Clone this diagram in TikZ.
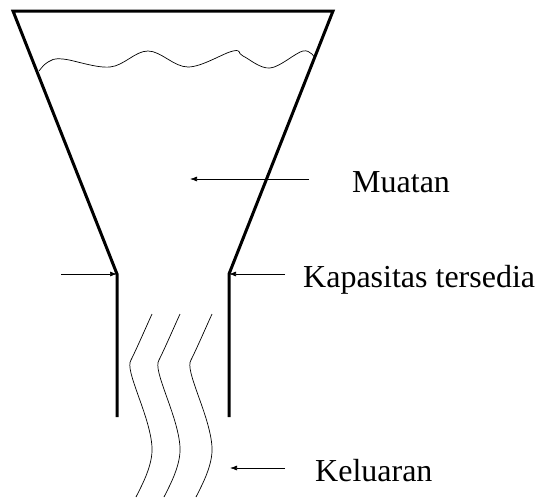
\documentclass[tikz,border=0pt]{standalone}
\usepackage{fontspec}
\setmainfont{Liberation Serif}
\usetikzlibrary{arrows.meta,calc}

\begin{document}
\begin{tikzpicture}[x=1pt, y=-1pt,
      wall/.style={line width=3pt, line join=miter},
      flow/.style={line width=0.7pt},
      arr/.style={-{Latex[length=7pt,width=5pt]}, line width=0.7pt},
      lbl/.style={anchor=base west, inner sep=0pt, text height=26pt, text depth=0pt,
                  font=\fontsize{32}{38}\selectfont}]
    \useasboundingbox (0,0) rectangle (537,498);
    % funnel
    \coordinate (tl) at (13,11);
    \coordinate (tr) at (333,11);
    \coordinate (lc) at (117,274);
    \coordinate (rc) at (229,274);
    \coordinate (lb) at (117,417);
    \coordinate (rb) at (229,417);
    \draw[wall] (lb) -- (lc) -- (tl) -- (tr) -- (rc) -- (rb);
    % surface of the load
    \draw[flow] plot[smooth, tension=0.6] coordinates {(39,71) (48,62) (63,59) (110,67)
      (148,51) (188,67) (233,51) (243,56) (270,68) (303,51) (315,58)};
    % outflow
    \foreach \dx in {0,28,60}
      \draw[flow] (152+\dx,314) .. controls (143+\dx,334) and (136+\dx,350) .. (131+\dx,360)
        .. controls (124+\dx,370) and (150+\dx,415) .. (152+\dx,447)
        .. controls (153+\dx,465) and (142+\dx,485) .. (136+\dx,497);
    % labels
    \node[lbl] (muatan) at (352,192) {Muatan};
    \node[lbl] (kap) at (303,287) {Kapasitas tersedia};
    \node[lbl] (kel) at (315,481) {Keluaran};
    \coordinate (mutip) at (190,179);
    \coordinate (keltip) at (230,468);
    \coordinate (kin) at (61,274);
    \draw[arr] ([xshift=-43pt]muatan.west) -- (muatan.west -| mutip);
    \draw[arr] ([xshift=-18pt]kap.west) -- (rc);
    \draw[arr] (kin) -- (lc);
    \draw[arr] ([xshift=-30pt]kel.west) -- (kel.west -| keltip);
\end{tikzpicture}
\end{document}
